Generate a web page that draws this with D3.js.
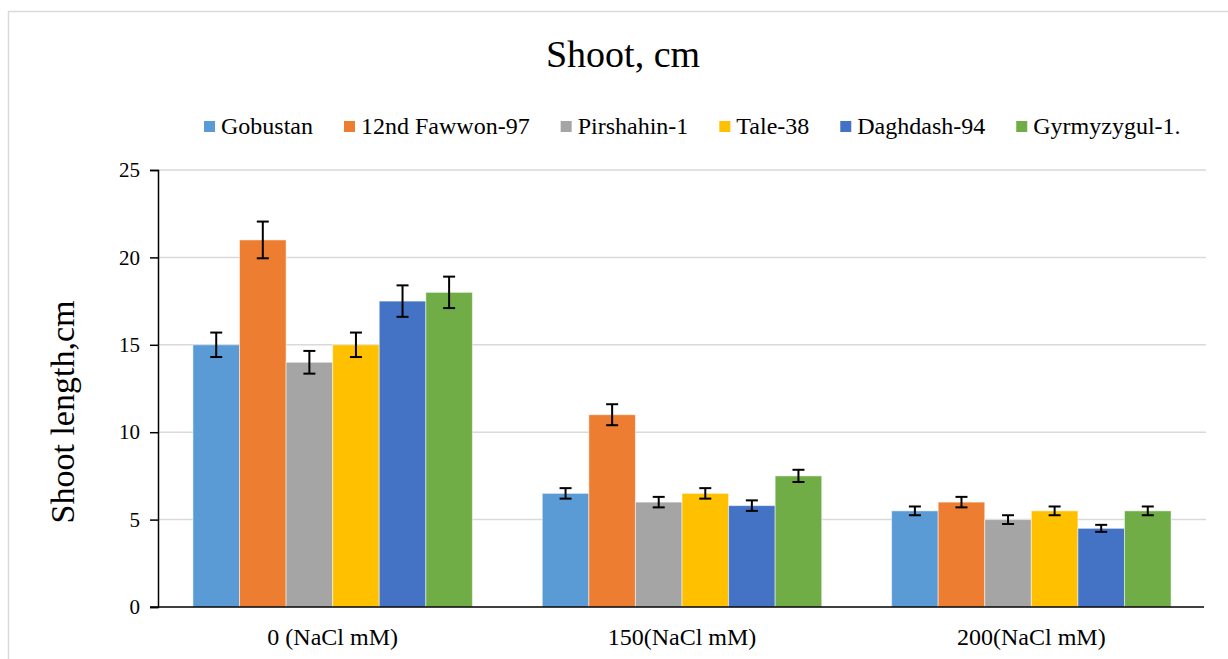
<!DOCTYPE html>
<html>
<head>
<meta charset="utf-8">
<script src="https://cdnjs.cloudflare.com/ajax/libs/d3/7.8.5/d3.min.js"></script>
<style>
  body { margin: 0; background: #fff; }
  text { font-family: "Liberation Serif", "Times New Roman", serif; fill: #000; }
</style>
</head>
<body>
<div id="chart"></div>
<script>
// data
var categories = ["0 (NaCl mM)", "150(NaCl mM)", "200(NaCl mM)"];
var varieties = ["Gobustan", "12nd Fawwon-97", "Pirshahin-1", "Tale-38", "Daghdash-94", "Gyrmyzygul-1."];
var colors = ["#5B9BD5", "#ED7D31", "#A5A5A5", "#FFC000", "#4472C4", "#70AD47"];

var gobustan   = [15, 6.5, 5.5];
var fawwon     = [21, 11, 6];
var pirshahin  = [14, 6, 5];
var tale       = [15, 6.5, 5.5];
var daghdash   = [17.5, 5.8, 4.5];
var gyrmyzygul = [18, 7.5, 5.5];

var gobustanErr   = [0.7, 0.3, 0.25];
var fawwonErr     = [1.05, 0.6, 0.3];
var pirshahinErr  = [0.65, 0.3, 0.25];
var taleErr       = [0.7, 0.3, 0.25];
var daghdashErr   = [0.9, 0.3, 0.2];
var gyrmyzygulErr = [0.9, 0.35, 0.25];

var yTicks = [0, 5, 10, 15, 20, 25];

var seriesVals = [gobustan, fawwon, pirshahin, tale, daghdash, gyrmyzygul];
var seriesErr = [gobustanErr, fawwonErr, pirshahinErr, taleErr, daghdashErr, gyrmyzygulErr];

var W = 1228, H = 659;
var svg = d3.select("#chart").append("svg")
  .attr("width", W).attr("height", H);

// outer chart frame
svg.append("rect")
  .attr("x", 8.5).attr("y", 11.5)
  .attr("width", 1300).attr("height", 700)
  .attr("fill", "none").attr("stroke", "#d9d9d9").attr("stroke-width", 1.5);

var plotLeft = 158, plotRight = 1206, plotTop = 170, plotBottom = 607;

var x0 = d3.scaleBand().domain(categories).range([plotLeft, plotRight])
  .paddingInner(0.2).paddingOuter(0.1);
var x1 = d3.scaleBand().domain(varieties).range([0, x0.bandwidth()]);
var y = d3.scaleLinear().domain([0, 25]).range([plotBottom, plotTop]);

// gridlines
svg.append("g").selectAll("line").data(yTicks.filter(function(d) { return d > 0; }))
  .enter().append("line")
  .attr("x1", plotLeft).attr("x2", plotRight)
  .attr("y1", function(d) { return y(d); }).attr("y2", function(d) { return y(d); })
  .attr("stroke", "#d9d9d9").attr("stroke-width", 1.5);

// y axis
var yAxis = svg.append("g").attr("transform", "translate(" + plotLeft + ",0)")
  .call(d3.axisLeft(y).tickValues(yTicks).tickSize(8).tickPadding(10));
yAxis.select(".domain").attr("stroke", "#000").attr("stroke-width", 1.5);
yAxis.selectAll(".tick line").attr("stroke", "#000").attr("stroke-width", 1.5);
yAxis.selectAll("text").style("font-size", "21px").style("font-family", "Liberation Serif");

// bars
var groups = svg.append("g").selectAll("g").data(categories).enter().append("g")
  .attr("transform", function(c) { return "translate(" + x0(c) + ",0)"; });

groups.each(function(c, ci) {
  var g = d3.select(this);
  varieties.forEach(function(v, si) {
    var val = seriesVals[si][ci];
    var err = seriesErr[si][ci];
    var bx = x1(v);
    g.append("rect")
      .attr("x", bx).attr("y", y(val))
      .attr("width", x1.bandwidth()).attr("height", y(0) - y(val))
      .attr("fill", colors[si])
      .attr("stroke", "#fff").attr("stroke-opacity", 0.5).attr("stroke-width", 1);
    var cx = bx + x1.bandwidth() / 2;
    // error bar
    g.append("line").attr("x1", cx).attr("x2", cx)
      .attr("y1", y(val + err)).attr("y2", y(val - err))
      .attr("stroke", "#000").attr("stroke-width", 2);
    [val + err, val - err].forEach(function(e) {
      g.append("line").attr("x1", cx - 6).attr("x2", cx + 6)
        .attr("y1", y(e)).attr("y2", y(e))
        .attr("stroke", "#000").attr("stroke-width", 2);
    });
  });
});

// x axis line
svg.append("line").attr("x1", plotLeft - 8).attr("x2", plotRight - 2)
  .attr("y1", plotBottom).attr("y2", plotBottom)
  .attr("stroke", "#000").attr("stroke-width", 1.5);

// x labels
svg.append("g").selectAll("text").data(categories).enter().append("text")
  .attr("x", function(c) { return x0(c) + x0.bandwidth() / 2; })
  .attr("y", 645)
  .attr("text-anchor", "middle")
  .style("font-size", "24px")
  .text(function(c) { return c; });

// title
svg.append("text").attr("x", 623).attr("y", 67)
  .attr("text-anchor", "middle").style("font-size", "38px")
  .text("Shoot, cm");

// y title
svg.append("text")
  .attr("transform", "translate(74,412) rotate(-90)")
  .attr("text-anchor", "middle").style("font-size", "34px")
  .text("Shoot length,cm");

// legend
var lx = 204;
varieties.forEach(function(v, i) {
  svg.append("rect").attr("x", lx).attr("y", 121)
    .attr("width", 11).attr("height", 11).attr("fill", colors[i]);
  var t = svg.append("text").attr("x", lx + 17).attr("y", 134)
    .style("font-size", "24px").text(v);
  lx = lx + 17 + t.node().getComputedTextLength() + 31;
});
</script>
</body>
</html>
